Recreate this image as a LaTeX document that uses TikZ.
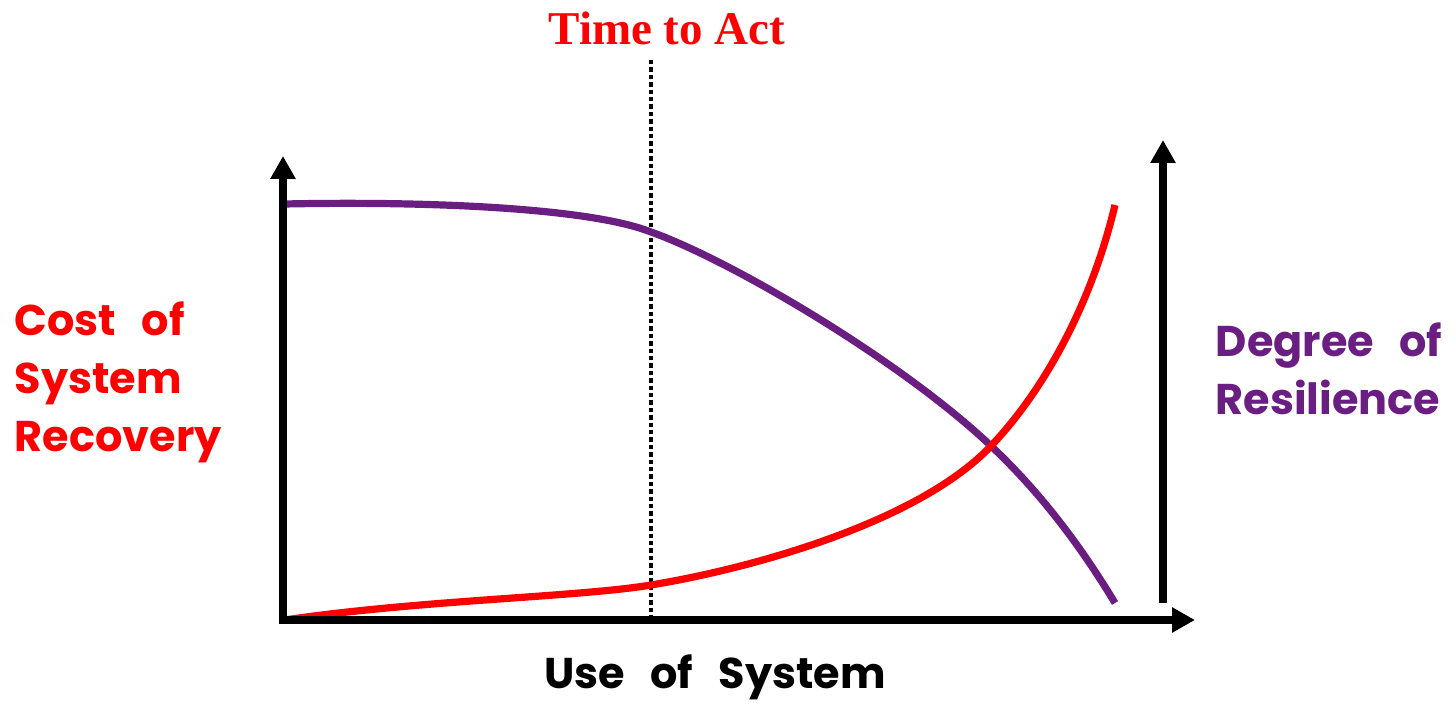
\documentclass[tikz,border=0pt]{standalone}
\usepackage{fontspec}
\setmainfont{Liberation Serif}
\newfontfamily\handfont{Poppins}[WordSpace=2.8]
\usetikzlibrary{arrows.meta}
\definecolor{costred}{RGB}{255,0,0}
\definecolor{resilpurple}{RGB}{106,30,130}
\tikzset{every picture/.style={line width=0.75pt}}
\tikzset{
  axisline/.style={line width=4pt, -{Triangle[length=11.5pt,width=12pt]}},
  curveline/.style={line width=3.6pt},
  handlabel/.style={font=\handfont\bfseries\fontsize{21.5}{29}\selectfont, align=left, inner sep=0pt}
}

\begin{document}
\begin{tikzpicture}[x=0.5pt,y=0.5pt,yscale=-1,xscale=1]
%set diagram bounds: 1456 x 704
\path[use as bounding box] (0,0) rectangle (1456,704);

%Axis points
\coordinate (origin) at (283,620);
\coordinate (ytop) at (283,156);
\coordinate (xend) at (1195,620);
\coordinate (rbot) at (1163,603);
\coordinate (rtop) at (1163,140);
\coordinate (acttop) at (651,60);
\coordinate (actbot) at (651,620);

%Dotted line: time to act
\draw [line width=2.2pt, dash pattern={on 2.2pt off 1.5pt}] (acttop) -- (actbot);

%Curve Lines: degree of resilience
\draw [curveline, color=resilpurple] (285,204) .. controls (430,201) and (590,208) .. (651,232) .. controls (730,260) and (900,360) .. (990,445) .. controls (1040,492) and (1080,545) .. (1115,603) ;
%Curve Lines: cost of system recovery
\draw [curveline, color=costred] (285,620) .. controls (420,600) and (580,597) .. (651,585) .. controls (760,567) and (920,520) .. (990,447) .. controls (1040,395) and (1090,310) .. (1115,205) ;

%Axes
\draw [axisline] (origin) -- (ytop) ;
\draw [axisline] ([xshift=-2pt]origin) -- (xend) ;
\draw [axisline] (rbot) -- (rtop) ;

% Text Node
\node (acttext) at (667,28) [font=\bfseries\fontsize{23.5}{28}\selectfont, text=costred] {Time to Act};
% Text Node
\node (costtext) at (14,382) [handlabel, anchor=west, text=costred] {Cost of\\System\\Recovery};
% Text Node
\node (resiltext) at (1215,369) [handlabel, anchor=west, text=resilpurple] {Degree of\\Resilience};
% Text Node
\node (usetext) at (715,677) [handlabel] {Use of System};

\end{tikzpicture}
\end{document}
